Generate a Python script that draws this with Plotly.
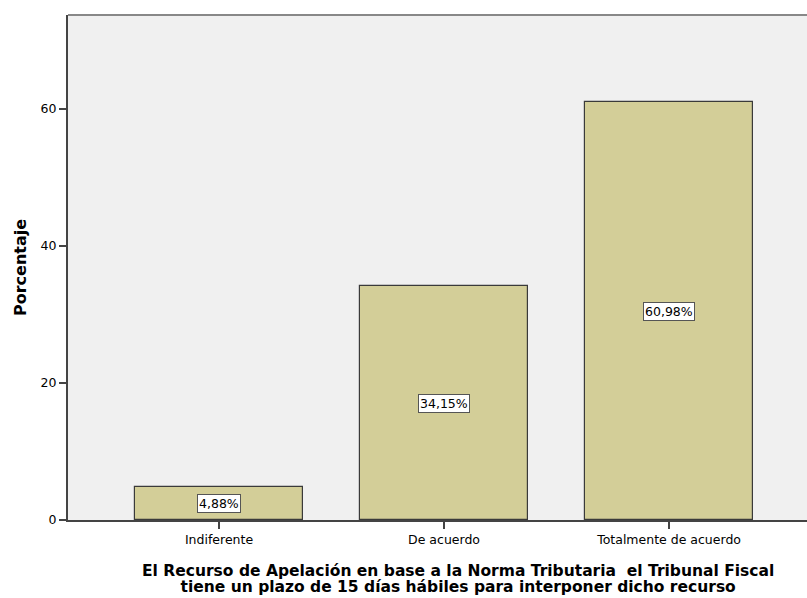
import plotly.graph_objects as go

categories = ["Indiferente", "De acuerdo", "Totalmente de acuerdo"]
values = [4.88, 34.15, 60.98]
labels = ["4,88%", "34,15%", "60,98%"]
y_ticks = [0, 20, 40, 60]
x_title_lines = [
    "El Recurso de Apelación en base a la Norma Tributaria  el Tribunal Fiscal",
    "tiene un plazo de 15 días hábiles para interponer dicho recurso",
]
y_title = "Porcentaje"

font = "DejaVu Sans, Liberation Sans, Arial, sans-serif"
xpos = list(range(len(categories)))

# page layout (body margin removed in post_script)
OFF = 0
PL, PT, PB, PR = 68, 15, 520, 807  # plot area in page pixels
W, H = 807 - OFF, 598 - OFF
pw, ph = PR - PL, PB - PT

fig = go.Figure()
fig.add_trace(go.Bar(
    x=xpos, y=values, width=0.747,
    marker=dict(color="#D3CE98", line=dict(color="#3a3a3a", width=1.2)),
    hoverinfo="skip",
))

for xi, v, lab in zip(xpos, values, labels):
    fig.add_annotation(
        x=xi, y=v / 2, text=lab, showarrow=False,
        font=dict(family=font, size=12.5, color="#000"),
        bgcolor="#ffffff", bordercolor="#555555", borderwidth=1, borderpad=1,
    )

# x title: two lines with tight spacing (line spacing follows the small base size)
title_text = "<br>".join(
    "<span style='font-size:15.5px'><b>" + line + "</b></span>" for line in x_title_lines
)
fig.add_annotation(
    xref="paper", yref="paper", x=(458 - PL) / pw, y=(PB - 579) / ph,
    xanchor="center", yanchor="middle", text=title_text,
    showarrow=False, font=dict(family=font, size=12.6, color="#000"),
)

fig.add_annotation(
    xref="paper", yref="paper", x=(20 - PL) / pw, y=(PB - 268) / ph,
    xanchor="center", yanchor="middle", textangle=-90, text="<b>" + y_title + "</b>",
    showarrow=False, font=dict(family=font, size=16, color="#000"),
)

fig.add_shape(type="line", xref="paper", yref="paper", x0=0, x1=1, y0=1, y1=1,
              line=dict(color="#888888", width=2))

fig.update_layout(
    width=W, height=H,
    margin=dict(l=PL - OFF, r=0, t=PT - OFF, b=H - (PB - OFF)),
    paper_bgcolor="#ffffff", plot_bgcolor="#F0F0F0",
    showlegend=False, bargap=0, hovermode=False,
    font=dict(family=font, size=12.5, color="#000"),
    xaxis=dict(
        range=[-0.671, 2.613], tickmode="array", tickvals=xpos, ticktext=categories,
        ticks="outside", ticklen=7, tickcolor="#444", tickwidth=1.5,
        showline=True, linecolor="#444", linewidth=2, showgrid=False, zeroline=False,
        tickfont=dict(family=font, size=12.5, color="#000"),
    ),
    yaxis=dict(
        range=[0, 73.7], tickmode="array", tickvals=y_ticks,
        ticks="outside", ticklen=7, tickcolor="#444", tickwidth=1.5,
        showline=True, linecolor="#444", linewidth=2, showgrid=False, zeroline=False,
        tickfont=dict(family=font, size=12.5, color="#000"),
    ),
)

fig.write_html(
    "out.html",
    config={"displayModeBar": False},
    post_script=(
        "document.body.style.margin='0';"
        "document.documentElement.style.overflow='hidden';"
        "document.body.style.overflow='hidden';"
    ),
)
